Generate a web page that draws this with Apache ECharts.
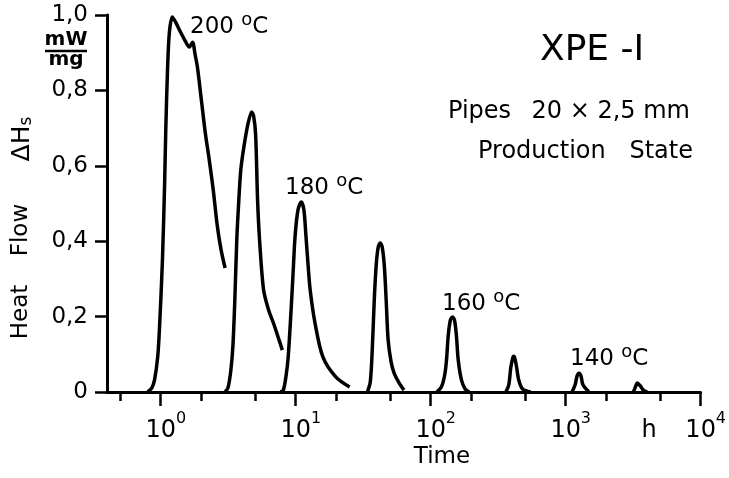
<!DOCTYPE html>
<html>
<head>
<meta charset="utf-8">
<script src="https://cdn.jsdelivr.net/npm/echarts@6/dist/echarts.min.js"></script>
<style>
  html, body { margin: 0; padding: 0; background: #fff; }
  #chart { width: 729px; height: 478px; }
</style>
</head>
<body>
<div id="chart"></div>
<script>
// time in h, heat flow in mW/mg, one array pair per peak
const t200 = [0.80, 0.86, 0.90, 0.95, 0.98, 1.03, 1.07, 1.09, 1.125, 1.16, 1.22, 1.29, 1.40, 1.52, 1.63, 1.72, 1.80, 1.87, 2.00, 2.14, 2.29, 2.45, 2.62, 2.80, 3.00];
const y200 = [0, 0.011, 0.032, 0.093, 0.172, 0.35, 0.56, 0.695, 0.862, 0.955, 0.995, 0.981, 0.955, 0.931, 0.915, 0.928, 0.894, 0.862, 0.775, 0.687, 0.615, 0.536, 0.443, 0.377, 0.329];

const t190 = [3.0, 3.15, 3.31, 3.43, 3.54, 3.66, 3.79, 3.92, 4.12, 4.41, 4.72, 4.88, 5.05, 5.22, 5.40, 5.78, 6.29, 6.84, 7.45, 7.96];
const y190 = [0, 0.011, 0.058, 0.125, 0.244, 0.403, 0.509, 0.589, 0.647, 0.708, 0.743, 0.732, 0.682, 0.509, 0.403, 0.271, 0.218, 0.183, 0.143, 0.111];

const t180 = [7.7, 8.1, 8.5, 8.8, 9.27, 9.59, 9.91, 10.4, 11.0, 11.5, 11.9, 12.35, 12.8, 13.9, 15.9, 19.8, 25.1];
const y180 = [0, 0.005, 0.045, 0.093, 0.225, 0.324, 0.416, 0.483, 0.504, 0.483, 0.416, 0.337, 0.271, 0.183, 0.093, 0.040, 0.013];

const t170 = [34.0, 35.7, 36.9, 38.2, 39.5, 40.9, 42.3, 43.7, 45.3, 46.8, 48.4, 50.9, 53.6, 58.3, 63.4];
const y170 = [0, 0.027, 0.111, 0.244, 0.337, 0.385, 0.395, 0.385, 0.337, 0.244, 0.138, 0.080, 0.050, 0.024, 0.005];

const t160 = [111, 120, 127, 131, 135, 140, 145, 150, 155, 160, 169, 180, 193];
const y160 = [0, 0.013, 0.045, 0.085, 0.151, 0.191, 0.199, 0.191, 0.151, 0.085, 0.032, 0.008, 0];

const t150 = [361, 379, 392, 405, 412, 420, 434, 449, 480, 550];
const y150 = [0, 0.019, 0.064, 0.090, 0.095, 0.090, 0.064, 0.032, 0.008, 0];

const t140 = [1116, 1175, 1214, 1256, 1300, 1343, 1486];
const y140 = [0, 0.019, 0.042, 0.050, 0.042, 0.019, 0];

const t130 = [3177, 3283, 3396, 3573, 3758, 4018];
const y130 = [0, 0.013, 0.024, 0.016, 0.005, 0];

const decadeTicks = [1, 10, 100, 1000, 10000];
const minorTicks = [0.5, 2, 5, 20, 50, 200, 500, 2000, 5000];

const FONT = 'DejaVu Sans';
const chart = echarts.init(document.getElementById('chart'));

const curves = [
  ['200', t200, y200], ['190', t190, y190], ['180', t180, y180], ['170', t170, y170],
  ['160', t160, y160], ['150', t150, y150], ['140', t140, y140], ['130', t130, y130],
];

const series = curves.map(([name, ts, ys]) => ({
  name: name,
  type: 'line',
  xAxisIndex: 0,
  smooth: 0.3,
  symbol: 'none',
  lineStyle: { color: '#000', width: 3.5 },
  data: ts.map((t, i) => [Math.log10(t), ys[i]]),
}));

const lg = (arr) => arr.map((v) => Math.log10(v));

const option = {
  animation: false,
  backgroundColor: '#fff',
  grid: { left: 107, right: 22, top: 15, bottom: 86 },
  xAxis: [
    {
      type: 'value',
      min: Math.log10(0.4),
      max: 4,
      axisLine: { show: true, onZero: false, lineStyle: { color: '#000', width: 3 } },
      axisTick: { show: true, customValues: lg(decadeTicks), length: 14, lineStyle: { color: '#000', width: 2.5 } },
      axisLabel: {
        customValues: lg(decadeTicks),
        margin: 19,
        formatter: (v) => '{pad|}{b|10}{s|' + Math.round(v) + '}',
        rich: {
          pad: { width: 10 },
          b: { fontFamily: FONT, fontSize: 24, color: '#000', lineHeight: 32, verticalAlign: 'bottom' },
          s: { fontFamily: FONT, fontSize: 16, color: '#000', verticalAlign: 'top', width: 10 },
        },
      },
      splitLine: { show: false },
    },
    {
      type: 'value',
      min: Math.log10(0.4),
      max: 4,
      position: 'bottom',
      axisLine: { show: false, onZero: false },
      axisTick: { show: true, customValues: lg(minorTicks), length: 9, lineStyle: { color: '#000', width: 2.5 } },
      axisLabel: { show: false },
      splitLine: { show: false },
    },
  ],
  yAxis: {
    type: 'value',
    min: 0,
    max: 1,
    interval: 0.2,
    axisLine: { show: true, onZero: false, lineStyle: { color: '#000', width: 3 } },
    axisTick: { show: true, length: 12, lineStyle: { color: '#000', width: 2.5 } },
    axisLabel: {
      margin: 19,
      color: '#000',
      fontFamily: FONT,
      fontSize: 23,
      formatter: (v) => (v === 0 ? '0' : v.toFixed(1).replace('.', ',')),
    },
    splitLine: { show: false },
  },
  series: series,
  graphic: [
    // temperature labels
    ...[['200', 190, 25], ['180', 285, 186], ['160', 442, 302], ['140', 570, 357]].map(([txt, x, y]) => ({
      type: 'text', x: x, y: y,
      style: {
        text: '{n|' + txt + ' }{o|o}{n|C}',
        verticalAlign: 'middle',
        rich: {
          n: { fontFamily: FONT, fontSize: 23, fill: '#000', lineHeight: 27, verticalAlign: 'bottom' },
          o: { fontFamily: FONT, fontSize: 18, fill: '#000', verticalAlign: 'top' },
        },
      },
    })),
    // y axis title, rotated
    { type: 'text', x: 21, y: 312, rotation: Math.PI / 2, style: { text: 'Heat', font: '23px ' + FONT, fill: '#000', align: 'center', verticalAlign: 'middle' } },
    { type: 'text', x: 21, y: 230, rotation: Math.PI / 2, style: { text: 'Flow', font: '23px ' + FONT, fill: '#000', align: 'center', verticalAlign: 'middle' } },
    {
      type: 'text', x: 21, y: 139, rotation: Math.PI / 2,
      style: {
        text: '{a|ΔH}{s|s}', align: 'center', verticalAlign: 'middle',
        rich: {
          a: { fontFamily: FONT, fontSize: 25, fill: '#000', lineHeight: 28, verticalAlign: 'bottom' },
          s: { fontFamily: FONT, fontSize: 17, fill: '#000', verticalAlign: 'bottom' },
        },
      },
    },
    // unit fraction mW / mg
    { type: 'text', x: 66, y: 40, style: { text: 'mW', font: 'bold 20px ' + FONT, fill: '#000', align: 'center', verticalAlign: 'middle' } },
    { type: 'line', shape: { x1: 45, y1: 51, x2: 87, y2: 51 }, style: { stroke: '#000', lineWidth: 2.5 } },
    { type: 'text', x: 66, y: 60, style: { text: 'mg', font: 'bold 20px ' + FONT, fill: '#000', align: 'center', verticalAlign: 'middle' } },
    // x axis title and unit
    { type: 'text', x: 442, y: 457, style: { text: 'Time', font: '23px ' + FONT, fill: '#000', align: 'center', verticalAlign: 'middle' } },
    { type: 'text', x: 649, y: 431, style: { text: 'h', font: '24px ' + FONT, fill: '#000', align: 'center', verticalAlign: 'middle' } },
    // sample description
    { type: 'text', x: 540, y: 51, style: { text: 'XPE -I', font: '36px ' + FONT, fill: '#000', verticalAlign: 'middle' } },
    { type: 'text', x: 448, y: 112, style: { text: 'Pipes', font: '24px ' + FONT, fill: '#000', verticalAlign: 'middle' } },
    { type: 'text', x: 690, y: 112, style: { text: '20 × 2,5 mm', font: '24px ' + FONT, fill: '#000', align: 'right', verticalAlign: 'middle' } },
    { type: 'text', x: 478, y: 152, style: { text: 'Production', font: '24px ' + FONT, fill: '#000', verticalAlign: 'middle' } },
    { type: 'text', x: 693, y: 152, style: { text: 'State', font: '24px ' + FONT, fill: '#000', align: 'right', verticalAlign: 'middle' } },
  ],
};

chart.setOption(option);
</script>
</body>
</html>
